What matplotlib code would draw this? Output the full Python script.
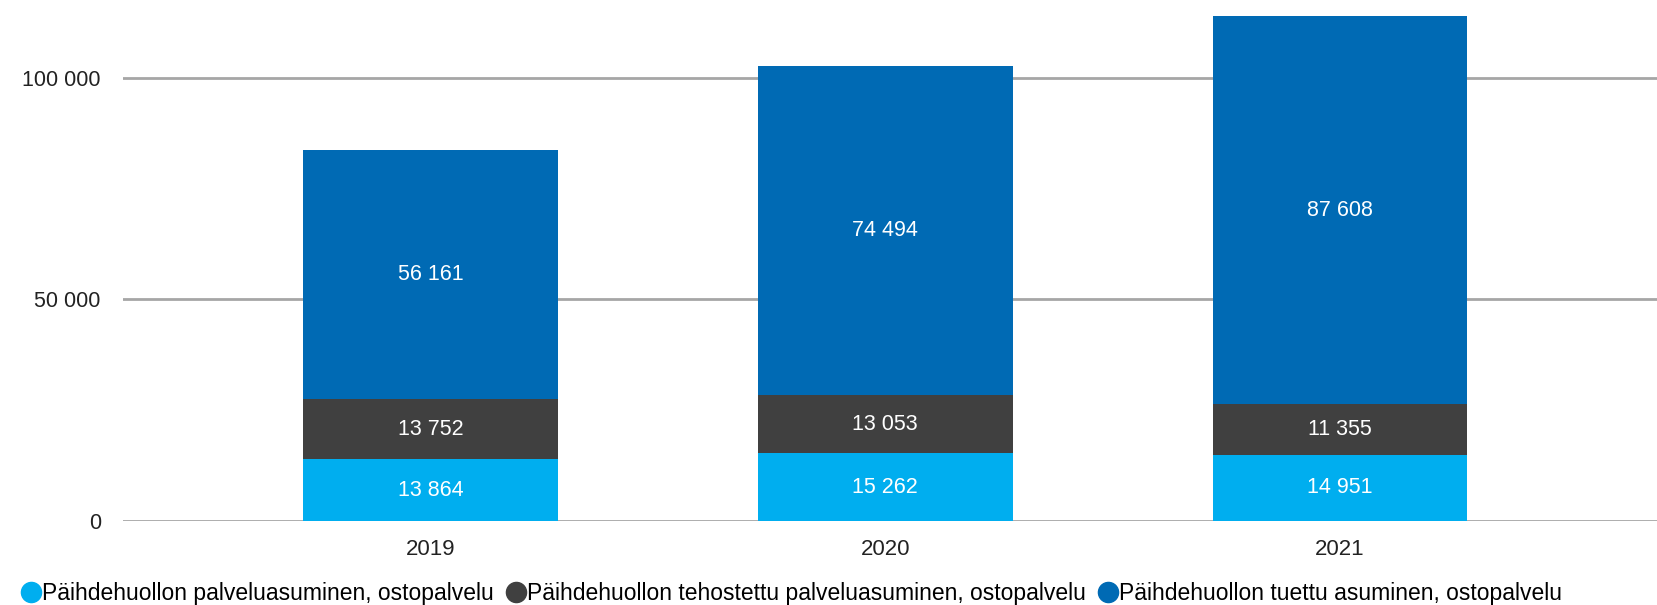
import numpy as np
import matplotlib
matplotlib.use("Agg")
import matplotlib.pyplot as plt
from matplotlib.lines import Line2D
from matplotlib.ticker import FuncFormatter

years = ["2019", "2020", "2021"]
palveluasuminen = [13864, 15262, 14951]
tehostettu = [13752, 13053, 11355]
tuettu = [56161, 74494, 87608]

labels = [
    "Päihdehuollon palveluasuminen, ostopalvelu",
    "Päihdehuollon tehostettu palveluasuminen, ostopalvelu",
    "Päihdehuollon tuettu asuminen, ostopalvelu",
]
colors = ["#00aeef", "#404040", "#006ab4"]

plt.rcParams['font.family'] = ['Liberation Sans', 'DejaVu Sans']

fig = plt.figure(figsize=(16.58, 6.05), dpi=100)
ax = fig.add_axes([0.0742, 0.139, 0.9258, 0.861])

x = np.arange(len(years))
w = 0.56
series = [palveluasuminen, tehostettu, tuettu]
bottom = np.zeros(len(years))
for vals, c in zip(series, colors):
    vals = np.array(vals)
    bars = ax.bar(x, vals, w, bottom=bottom, color=c, zorder=3)
    for b, v, bt in zip(bars, vals, bottom):
        ax.text(b.get_x() + b.get_width() / 2, bt + v / 2,
                "{:,}".format(int(v)).replace(",", " "),
                ha="center", va="center", color="white", fontsize=15.5, zorder=4)
    bottom += vals

ax.set_xlim(-0.677, 2.70)
ax.set_ylim(0, 117600)
ax.set_yticks([0, 50000, 100000])
ax.yaxis.set_major_formatter(FuncFormatter(lambda v, p: "{:,}".format(int(v)).replace(",", " ")))
ax.set_xticks(x)
ax.set_xticklabels(years)
ax.grid(axis="y", color="#a6a6a6", linewidth=2, zorder=0)
ax.tick_params(axis="both", length=0, labelsize=15.5, colors="#222222")
ax.tick_params(axis="y", pad=16)
ax.tick_params(axis="x", pad=13, labelsize=16)
for s in ax.spines.values():
    s.set_visible(False)

handles = [Line2D([], [], marker="o", linestyle="", markersize=14.5, color=c) for c in colors]
fig.legend(handles, labels, loc="lower left", bbox_to_anchor=(0.002, -0.022), ncol=3,
           frameon=False, fontsize=16.5, handletextpad=-0.1, columnspacing=0.35,
           handlelength=1.2, borderaxespad=0.2)

fig.savefig("out.png", dpi=100)
